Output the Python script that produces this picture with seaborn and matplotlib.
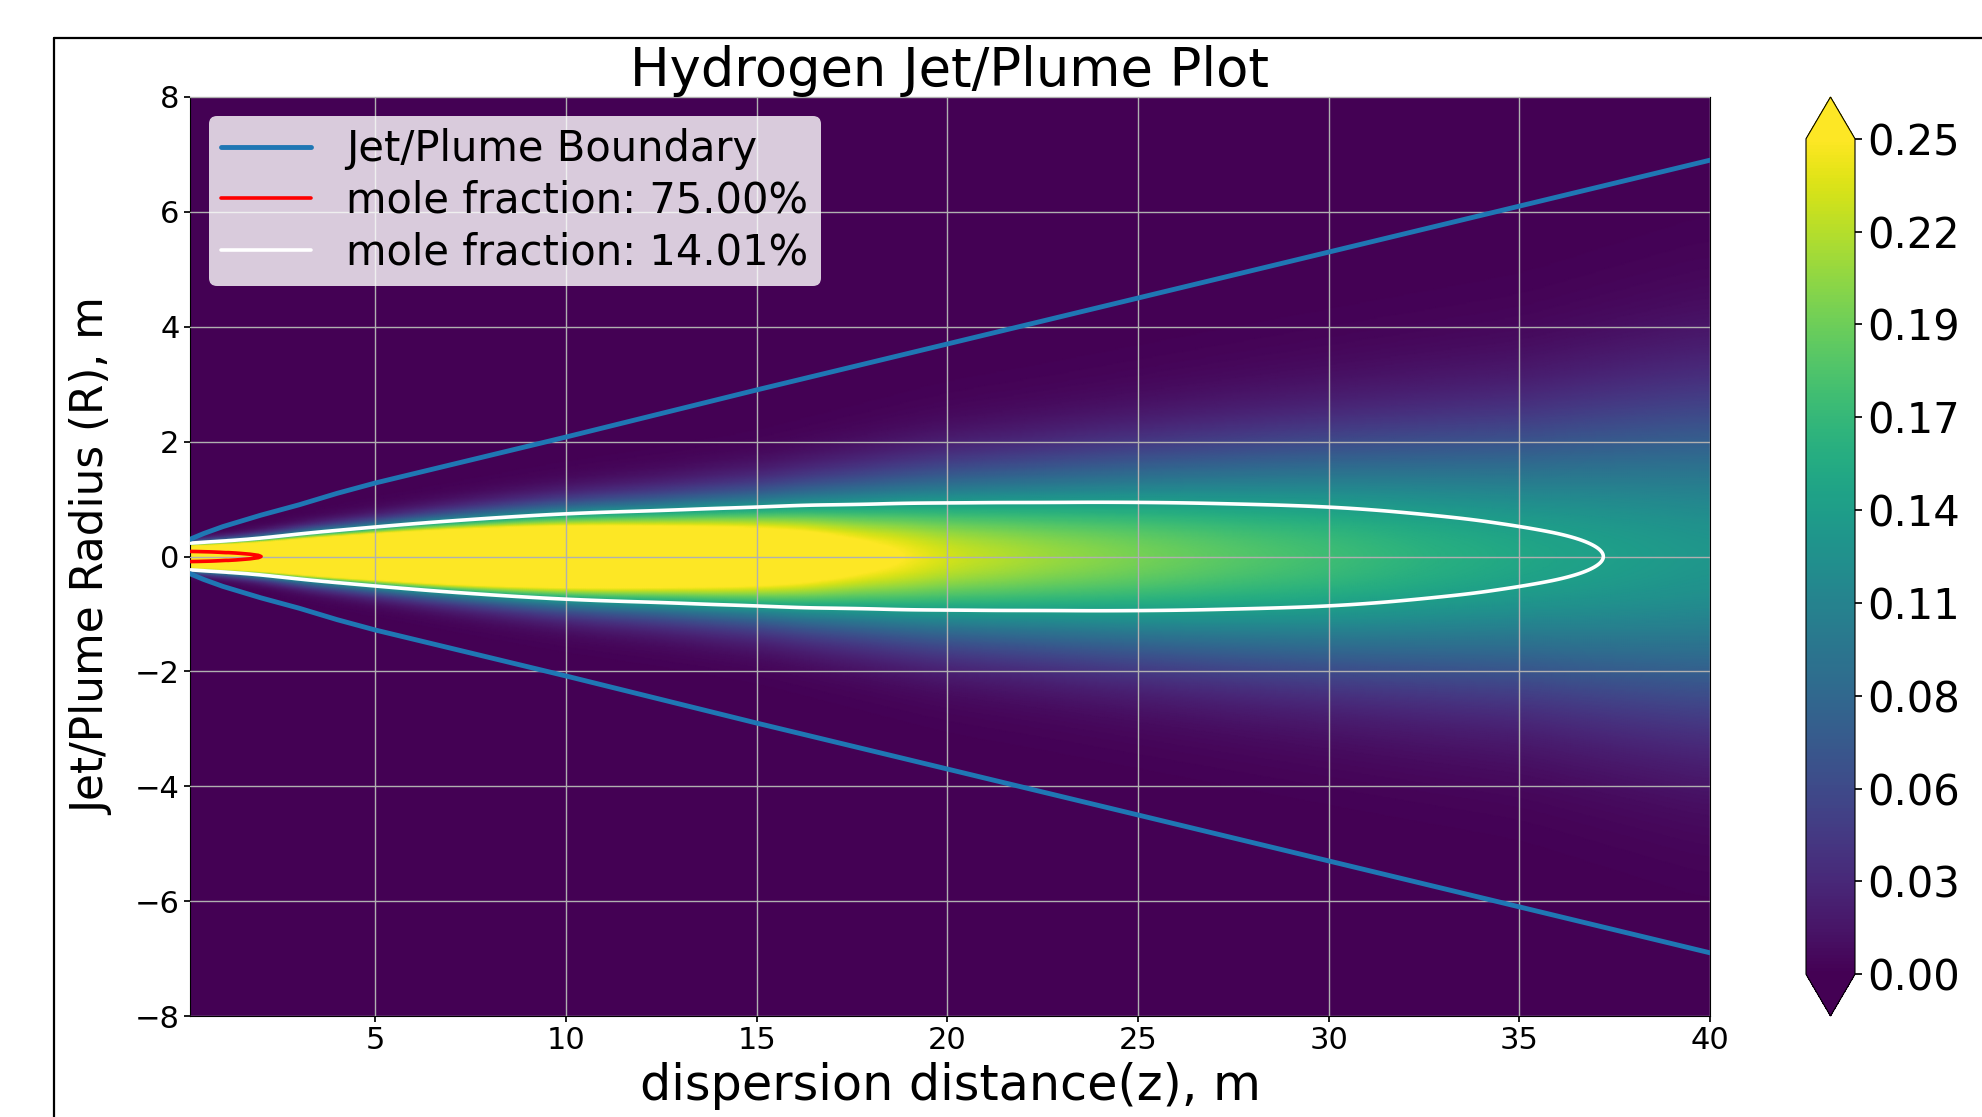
import numpy as np
import pandas as pd
import matplotlib
matplotlib.use("Agg")
import matplotlib.pyplot as plt
import seaborn as sns
from matplotlib.lines import Line2D

# ---------------- data ----------------
# centreline hydrogen mole fraction and gaussian half-width of the plume
z_samples = [0.14, 0.5, 1.0, 1.5, 2.0, 3.0, 4.0, 5.0, 6.0, 7.5, 10.0, 12.5,
             15.0, 17.5, 20.0, 22.5, 25.0, 27.5, 30.0, 32.5, 35.0, 37.5, 40.0]
centerline_fraction = [1.00, 0.93, 0.85, 0.785, 0.735, 0.71, 0.69, 0.675, 0.65,
                       0.58, 0.48, 0.40, 0.34, 0.27, 0.232, 0.213, 0.198,
                       0.184, 0.172, 0.159, 0.148, 0.139, 0.131]
plume_halfwidth = [0.165, 0.18, 0.20, 0.22, 0.245, 0.31, 0.36, 0.41, 0.46,
                   0.54, 0.67, 0.78, 0.91, 1.11, 1.31, 1.45, 1.60, 1.75,
                   1.90, 2.05, 2.20, 2.45, 2.70]

# jet/plume boundary (upper half, mirrored below)
boundary_z = [0.14, 0.5, 1.0, 1.5, 2.0, 3.0, 4.0, 5.0, 7.5, 10.0, 15.0,
              20.0, 25.0, 30.0, 35.0, 40.0]
boundary_r = [0.30, 0.40, 0.52, 0.62, 0.72, 0.90, 1.10, 1.28, 1.68, 2.08,
              2.90, 3.70, 4.50, 5.30, 6.10, 6.90]

contour_levels = [0.75, 0.1401]
contour_colors = ["red", "white"]

x_ticks = [5, 10, 15, 20, 25, 30, 35, 40]
y_ticks = [-8, -6, -4, -2, 0, 2, 4, 6, 8]
cbar_ticks = np.linspace(0, 0.25, 10)

title = "Hydrogen Jet/Plume Plot"
xlabel = "dispersion distance(z), m"
ylabel = "Jet/Plume Radius (R), m"

# ---------------- figure ----------------
sns.set_theme(style="ticks", rc={"axes.edgecolor": "black",
                                 "axes.linewidth": 0.8,
                                 "text.color": "black",
                                 "axes.labelcolor": "black",
                                 "xtick.color": "black",
                                 "ytick.color": "black",
                                 "xtick.major.size": 4,
                                 "ytick.major.size": 4})
plt.rcParams["font.family"] = ["DejaVu Sans"]

fig = plt.figure(figsize=(19.83, 11.17), dpi=100)
ax = fig.add_axes([190 / 1983, 1 - 1016 / 1117, (1710 - 190) / 1983, (1016 - 97) / 1117])
cax = fig.add_axes([1806 / 1983, 1 - 1016 / 1117, 49 / 1983, (1016 - 97) / 1117])

# figure frame (partly cut off in the reference)
fig.add_artist(Line2D([54 / 1983, 1.01], [1 - 38 / 1117, 1 - 38 / 1117],
                      transform=fig.transFigure, color="black", lw=1.6))
fig.add_artist(Line2D([54 / 1983, 54 / 1983], [1 - 38 / 1117, -0.01],
                      transform=fig.transFigure, color="black", lw=1.6))

# continuous field on a fine grid built from the sampled profiles
zg = np.linspace(min(z_samples), 40, 800)
rg = np.linspace(-8, 8, 801)
Xc = np.interp(zg, z_samples, centerline_fraction)
B = np.interp(zg, z_samples, plume_halfwidth)


def smooth(v, n=15):
    pad = np.concatenate([np.full(n, v[0]), v, np.full(n, v[-1])])
    k = np.ones(2 * n + 1) / (2 * n + 1)
    return np.convolve(pad, k, mode="same")[n:-n]


Xc = np.concatenate([Xc[:20], smooth(Xc)[20:]])
B = np.concatenate([B[:20], smooth(B)[20:]])
ZZ, RR = np.meshgrid(zg, rg)
field = Xc[None, :] * np.exp(-(RR / B[None, :]) ** 2)

mesh = ax.pcolormesh(ZZ, RR, field, cmap="viridis", vmin=0, vmax=0.25,
                     shading="gouraud", rasterized=True, zorder=0)
for lev, col in zip(contour_levels, contour_colors):
    ax.contour(ZZ, RR, field, levels=[lev], colors=[col], linewidths=2.6, zorder=3)

bdf = pd.DataFrame({"z": boundary_z + boundary_z,
                    "r": boundary_r + [-v for v in boundary_r],
                    "side": ["upper"] * len(boundary_z) + ["lower"] * len(boundary_z)})
for side in ["upper", "lower"]:
    sns.lineplot(data=bdf[bdf.side == side], x="z", y="r", ax=ax,
                 color="#1f77b4", lw=3.5, sort=True, zorder=4)

ax.set_axisbelow(False)
ax.set_xlim(min(z_samples), 40)
ax.set_ylim(-8, 8)
ax.set_xticks(x_ticks)
ax.set_yticks(y_ticks)
ax.grid(True, color="#b0b0b0", lw=1.0, zorder=2)
ax.tick_params(labelsize=22)
ax.set_title(title, fontsize=38, pad=6)
ax.set_xlabel(xlabel, fontsize=35.5, labelpad=5)
ax.set_ylabel(ylabel, fontsize=31.5, labelpad=15)

handles = [Line2D([], [], color="#1f77b4", lw=3.5),
           Line2D([], [], color=contour_colors[0], lw=2.6),
           Line2D([], [], color=contour_colors[1], lw=2.6)]
labels = ["Jet/Plume Boundary"] + [f"mole fraction: {v * 100:.2f}%" for v in contour_levels]
leg = ax.legend(handles, labels, loc="upper left", fontsize=30, framealpha=0.8,
                facecolor="white", edgecolor="none", borderaxespad=0.45,
                borderpad=0.3, handlelength=2.15, handletextpad=0.85,
                labelspacing=0.23)
leg.set_zorder(10)

cb = fig.colorbar(mesh, cax=cax, extend="both", ticks=cbar_ticks, format="%.2f")
cb.ax.tick_params(labelsize=30, length=5)
cb.outline.set_linewidth(0.8)

fig.savefig("out.png", dpi=100)
